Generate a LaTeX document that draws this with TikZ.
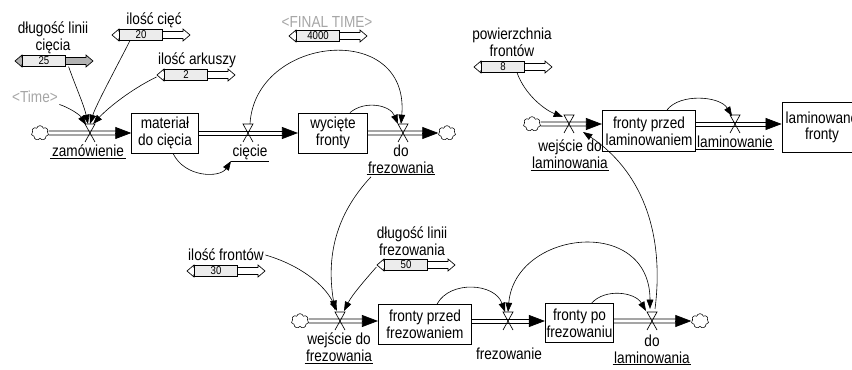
\documentclass[tikz,border=0pt]{standalone}
\usepackage{fontspec}
\setmainfont{Liberation Sans}[FakeStretch=0.85]
\usetikzlibrary{arrows.meta,shapes.symbols,calc}

\tikzset{
  stock/.style={draw, line width=0.6pt, fill=white, minimum height=30pt,
    align=center, inner sep=1pt},
  pline/.style={line width=0.6pt},
  ptip/.style={line width=0.5pt, -{Triangle[length=12pt,width=9pt]}},
  infl/.style={line width=0.45pt, -{Triangle[length=7pt,width=5pt]}},
  chmura/.style={cloud, draw, cloud puffs=7, minimum width=13pt,
    minimum height=11pt, inner sep=0pt, fill=white},
  flowlab/.style={align=center, inner sep=1pt},
  ghost/.style={text=gray!70, inner sep=1pt},
  valbox/.style={draw, fill=gray!15, minimum width=32pt, minimum height=8pt,
    inner sep=0pt, font=\fontsize{8.5}{8.5}\selectfont},
  uline/.style={line width=0.6pt},
  zawor/.pic={\draw[line width=0.5pt] (-5,9) -- (5,-9) -- (-5,-9) -- (5,9);}
}

% suwak: nazwa, x lewego konca, y, wartosc, wypelnienie toru
\newcommand\suwak[5]{%
  \draw[fill=#5, line width=0.5pt] (#2,#3) -- ++(7,-6) -- ++(0,2.5) -- ++(64,0)
    -- ++(0,-2.5) -- ++(7,6) -- ++(-7,6) -- ++(0,-2.5) -- ++(-64,0)
    -- ++(0,2.5) -- cycle;
  \node[valbox] (#1) at ({#2+29},#3) {#4};
  \draw[line width=1.2pt] (#1.north east) -- (#1.south east);
}
% rura przeplywu: od, do (oba punkty na tej samej wysokosci)
\newcommand\rura[2]{%
  \draw[pline] ($(#1)+(0,-2)$) -- ($(#2)+(-10,-2)$);
  \draw[pline] ($(#1)+(0,2)$) -- ($(#2)+(-10,2)$);
  \draw[ptip] ($(#2)+(-12,0)$) -- (#2);
}

\begin{document}
\begin{tikzpicture}[x=0.75pt,y=-0.75pt,font=\fontsize{12}{12.5}\selectfont]
\clip (0,0) rectangle (852,370);

% lancuch ciecia
\node[chmura] (c1) at (40,133) {};
\node[stock, minimum width=50pt] (mat) at (165,133) {materiał\\do cięcia};
\node[stock, minimum width=52pt] (wf) at (333,133) {wycięte\\fronty};
\node[chmura] (c2) at (447,133) {};
\coordinate (zam) at (90,133);
\coordinate (cie) at (248,133);
\coordinate (dfr) at (403,133);
\rura{c1.east}{mat.west}
\rura{mat.east}{wf.west}
\rura{wf.east}{c2.west}
\pic at (zam) {zawor};
\pic at (cie) {zawor};
\pic at (dfr) {zawor};
\node[flowlab] (lzam) at (88,151) {zamówienie};
\node[flowlab] (lcie) at (250,152) {cięcie};
\node[flowlab] (ldfr) at (401,159) {do\\frezowania};
\draw[uline] (lzam.south west) -- (lzam.south east);
\draw[uline] (lcie.south west) -- (lcie.south east);
\draw[uline] (ldfr.south west) -- (ldfr.south east);

% stale
\suwak{sdl}{15}{61}{25}{gray!60}
\suwak{sic}{112}{35}{20}{white}
\suwak{sia}{157}{75}{2}{white}
\suwak{sft}{289}{36}{4000}{white}
\suwak{spf}{474}{67}{8}{white}
\suwak{sif}{187}{271}{30}{white}
\suwak{sdf}{377}{265}{50}{white}
\node[align=center, inner sep=1pt] (ldl) at (53,38) {długość linii\\cięcia};
\node[inner sep=1pt] (lic) at (154,20) {ilość cięć};
\node[inner sep=1pt] (lia) at (197,60) {ilość arkuszy};
\node[align=center, inner sep=1pt] (lpf) at (512,42) {powierzchnia\\frontów};
\node[inner sep=1pt] (lif) at (226,255) {ilość frontów};
\node[align=center, inner sep=1pt] (ldf) at (412,241) {długość linii\\frezowania};
\node[ghost] (tim) at (35,97) {<Time>};
\node[ghost] (fin) at (327,22) {<FINAL TIME>};

% lancuch laminowania
\node[chmura] (c3) at (532,124) {};
\node[stock, minimum width=70pt, minimum height=31pt] (fpl) at (649,131) {fronty przed\\laminowaniem};
\node[stock, minimum width=60pt, minimum height=37pt] (lf) at (822,127.5) {laminowane\\fronty};
\coordinate (wdl) at (569,124);
\coordinate (lam) at (735,124);
\rura{c3.east}{c3 -| fpl.west}
\rura{fpl.east |- lam}{lam -| lf.west}
\pic at (wdl) {zawor};
\pic at (lam) {zawor};
\node[flowlab] (lwdl) at (570,154) {wejście do\\laminowania};
\node[flowlab] (llam) at (735,142) {laminowanie};
\draw[uline] (lwdl.south west) -- (lwdl.south east);
\draw[uline] (llam.south west) -- (llam.south east);

% lancuch frezowania
\node[chmura] (c4) at (300,321) {};
\node[stock, minimum width=70pt] (fpf) at (425,324.5) {fronty przed\\frezowaniem};
\node[stock, minimum width=50pt, minimum height=29pt] (fpo) at (579.5,323) {fronty po\\frezowaniu};
\node[chmura] (c5) at (700,321) {};
\coordinate (wdf) at (340,321);
\coordinate (frz) at (508,321);
\coordinate (dla) at (652,321);
\rura{c4.east}{c4 -| fpf.west}
\rura{fpf.east |- frz}{frz -| fpo.west}
\rura{fpo.east |- dla}{c5.west}
\pic at (wdf) {zawor};
\pic at (frz) {zawor};
\pic at (dla) {zawor};
\node[flowlab] (lwdf) at (339,347) {wejście do\\frezowania};
\node[flowlab] (lfrz) at (509,354) {frezowanie};
\node[flowlab] (ldla) at (652,349) {do\\laminowania};
\draw[uline] (lwdf.south west) -- (lwdf.south east);
\draw[uline] (ldla.south west) -- (ldla.south east);

% powiazania
\draw[infl] ($(sdl.south east)+(3,0)$) .. controls (75,85) and (84,105) .. ($(zam)+(-2,-9)$);
\draw[infl] ($(sic.south)+(-11,0)$) .. controls (115,70) and (96,105) .. ($(zam)+(0,-9)$);
\draw[infl] ($(sia.west)+(-8,2)$) .. controls (130,90) and (108,108) .. ($(zam)+(3,-9)$);
\draw[infl] (tim.south east) .. controls (70,108) and (80,115) .. ($(zam)+(-4,-8)$);
\draw[infl] ($(mat.south)+(8,0)$) .. controls (185,178) and (220,178) .. (lcie.south west);
\draw[infl] ($(cie)+(2,-9)$) .. controls (255,35) and (410,20) .. ($(dfr)+(-2,-9)$);
\draw[infl] ($(wf.north)+(17,0)$) .. controls (365,100) and (390,105) .. ($(dfr)+(-5,-9)$);
\draw[infl] ($(ldfr.south)+(-30,2)$) .. controls (340,210) and (325,250) .. ($(wdf)+(-5,-11)$);
\draw[infl] (lif.east) .. controls (300,265) and (325,285) .. ($(wdf)+(-3,-10)$);
\draw[infl] ($(sdf.west)+(-8,2)$) .. controls (365,280) and (352,295) .. ($(wdf)+(4,-10)$);
\draw[infl] ($(fpf.north)+(12,0)$) .. controls (450,280) and (495,283) .. ($(frz)+(-3,-9)$);
\draw[infl, {Triangle[length=7pt,width=5pt]}-{Triangle[length=7pt,width=5pt]}] ($(frz)+(0,-9)$) .. controls (515,230) and (650,215) .. ($(dla)+(-2,-12)$);
\draw[infl] ($(fpo.north)+(12,0)$) .. controls (605,288) and (635,292) .. ($(dla)+(-6,-10)$);
\draw[infl] ($(dla)+(3,-12)$) .. controls (665,230) and (640,170) .. ($(wdl)+(14,8)$);
\draw[infl] ($(spf.south)+(14,0)$) .. controls (525,95) and (545,110) .. ($(wdl)+(-6,-7)$);
\draw[infl] ($(fpl.north)+(18,0)$) .. controls (680,93) and (720,96) .. ($(lam)+(-3,-8)$);
\end{tikzpicture}
\end{document}
